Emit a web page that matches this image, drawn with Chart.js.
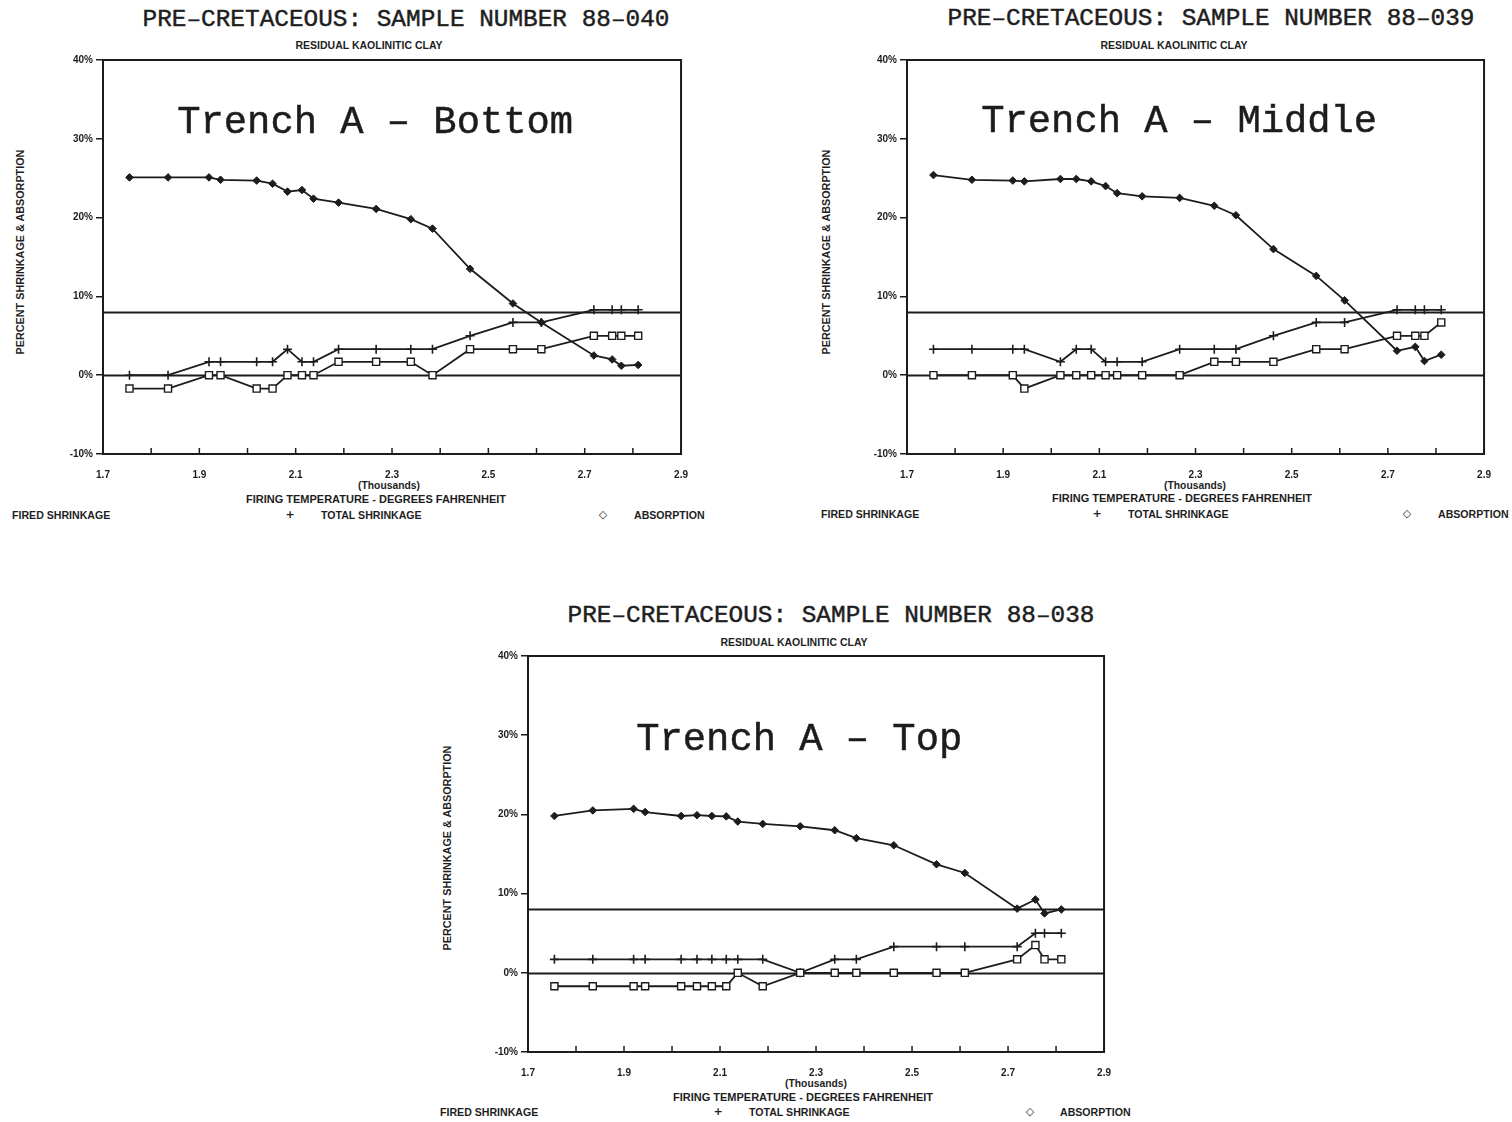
<!DOCTYPE html>
<html>
<head>
<meta charset="utf-8">
<script src="https://cdn.jsdelivr.net/npm/chart.js@4.4.1/dist/chart.umd.min.js"></script>
<style>
  html,body{margin:0;padding:0;background:#ffffff;}
  body{width:1512px;height:1122px;position:relative;overflow:hidden;color:#1e1e1e;}
  .box{position:absolute;}
  .t{position:absolute;white-space:nowrap;line-height:1;transform:translate(-50%,-50%);}
  .l{position:absolute;white-space:nowrap;line-height:1;transform:translate(0,-50%);}
  .ttl{font-family:"Liberation Mono","DejaVu Sans Mono",monospace;font-size:24.4px;-webkit-text-stroke:0.45px #1e1e1e;}
  .sm{font-family:"Liberation Sans",Arial,sans-serif;font-weight:bold;font-size:10.5px;}
  .th{font-family:"Liberation Sans",Arial,sans-serif;font-weight:bold;font-size:10.3px;}
  .fx{font-family:"Liberation Sans",Arial,sans-serif;font-weight:bold;font-size:11px;}
  .lg{font-family:"Liberation Sans",Arial,sans-serif;font-weight:bold;font-size:10.6px;}
  .yt{font-family:"Liberation Sans",Arial,sans-serif;font-weight:bold;font-size:10.8px;transform:translate(-50%,-50%) rotate(-90deg);}
  .sym{font-family:"DejaVu Sans",sans-serif;font-weight:bold;font-size:11px;}
</style>
</head>
<body>

<!-- Chart 1 texts -->
<div class="t ttl" style="left:406px;top:20px;">PRE–CRETACEOUS: SAMPLE NUMBER 88–040</div>
<div class="t sm" style="left:369px;top:45px;">RESIDUAL KAOLINITIC CLAY</div>
<div class="t yt" style="left:20px;top:252px;">PERCENT SHRINKAGE &amp; ABSORPTION</div>
<div class="t th" style="left:389px;top:486px;">(Thousands)</div>
<div class="t fx" style="left:376px;top:499px;">FIRING TEMPERATURE - DEGREES FAHRENHEIT</div>
<div class="l lg" style="left:12px;top:515px;">FIRED SHRINKAGE</div>
<div class="t sym" style="left:290px;top:514px;">+</div>
<div class="l lg" style="left:321px;top:515px;">TOTAL SHRINKAGE</div>
<div class="t sym" style="left:603px;top:514px;">◇</div>
<div class="l lg" style="left:634px;top:515px;">ABSORPTION</div>

<!-- Chart 2 texts -->
<div class="t ttl" style="left:1211px;top:19px;">PRE–CRETACEOUS: SAMPLE NUMBER 88–039</div>
<div class="t sm" style="left:1174px;top:45px;">RESIDUAL KAOLINITIC CLAY</div>
<div class="t yt" style="left:826px;top:252px;">PERCENT SHRINKAGE &amp; ABSORPTION</div>
<div class="t th" style="left:1195px;top:486px;">(Thousands)</div>
<div class="t fx" style="left:1182px;top:498px;">FIRING TEMPERATURE - DEGREES FAHRENHEIT</div>
<div class="l lg" style="left:821px;top:514px;">FIRED SHRINKAGE</div>
<div class="t sym" style="left:1097px;top:513px;">+</div>
<div class="l lg" style="left:1128px;top:514px;">TOTAL SHRINKAGE</div>
<div class="t sym" style="left:1407px;top:513px;">◇</div>
<div class="l lg" style="left:1438px;top:514px;">ABSORPTION</div>

<!-- Chart 3 texts -->
<div class="t ttl" style="left:831px;top:616px;">PRE–CRETACEOUS: SAMPLE NUMBER 88–038</div>
<div class="t sm" style="left:794px;top:642px;">RESIDUAL KAOLINITIC CLAY</div>
<div class="t yt" style="left:447px;top:848px;">PERCENT SHRINKAGE &amp; ABSORPTION</div>
<div class="t th" style="left:816px;top:1084px;">(Thousands)</div>
<div class="t fx" style="left:803px;top:1097px;">FIRING TEMPERATURE - DEGREES FAHRENHEIT</div>
<div class="l lg" style="left:440px;top:1112px;">FIRED SHRINKAGE</div>
<div class="t sym" style="left:718px;top:1111px;">+</div>
<div class="l lg" style="left:749px;top:1112px;">TOTAL SHRINKAGE</div>
<div class="t sym" style="left:1030px;top:1111px;">◇</div>
<div class="l lg" style="left:1060px;top:1112px;">ABSORPTION</div>

<div class="box" style="left:43px;top:50px;width:660px;height:444px;"><canvas id="c1"></canvas></div>
<div class="box" style="left:847px;top:50px;width:659px;height:444px;"><canvas id="c2"></canvas></div>
<div class="box" style="left:468px;top:646px;width:658px;height:446px;"><canvas id="c3"></canvas></div>

<script>
// ---- Data (firing temperature in thousands of °F, values in percent) ----
const temps = [1.755, 1.835, 1.92, 1.944, 2.019, 2.052, 2.083, 2.113, 2.137, 2.189,
               2.267, 2.339, 2.384, 2.462, 2.551, 2.61, 2.719, 2.757, 2.776, 2.811];

// Sample 88-040 (Trench A - Bottom)
const fired040 = [-1.7,-1.7,0,0,-1.7,-1.7,0,0,0,1.7,1.7,1.7,0,3.3,3.3,3.3,5,5,5,5];
const total040 = [0,0,1.7,1.7,1.7,1.7,3.3,1.7,1.7,3.3,3.3,3.3,3.3,5,6.7,6.7,8.3,8.3,8.3,8.3];
const absorb040 = [25.1,25.1,25.1,24.8,24.7,24.3,23.3,23.5,22.4,21.9,21.1,19.8,18.6,13.5,9.1,6.7,2.5,2.0,1.2,1.3];

// Sample 88-039 (Trench A - Middle)
const fired039 = [0,0,0,-1.7,0,0,0,0,0,0,0,1.7,1.7,1.7,3.3,3.3,5,5,5,6.7];
const total039 = [3.3,3.3,3.3,3.3,1.7,3.3,3.3,1.7,1.7,1.7,3.3,3.3,3.3,5,6.7,6.7,8.3,8.3,8.3,8.3];
const absorb039 = [25.4,24.8,24.7,24.6,24.9,24.9,24.6,24.0,23.1,22.7,22.5,21.5,20.3,16.0,12.6,9.5,3.1,3.6,1.8,2.6];

// Sample 88-038 (Trench A - Top)
const fired038 = [-1.7,-1.7,-1.7,-1.7,-1.7,-1.7,-1.7,-1.7,0,-1.7,0,0,0,0,0,0,1.7,3.5,1.7,1.7];
const total038 = [1.7,1.7,1.7,1.7,1.7,1.7,1.7,1.7,1.7,1.7,0,1.7,1.7,3.3,3.3,3.3,3.3,5,5,5];
const absorb038 = [19.8,20.5,20.7,20.3,19.8,19.9,19.8,19.75,19.1,18.8,18.5,18.0,17.0,16.1,13.7,12.6,8.1,9.25,7.5,8.0];

// Reference levels (percent) drawn across each plot
const refLevels = [0, 8];
// Axis ranges / ticks
const xMin = 1.7, xMax = 2.9, xStep = 0.1;
const yMin = -10, yMax = 40, yStep = 10;
// In-plot captions and their anchor (data coordinates)
const captions = ["Trench A – Bottom", "Trench A – Middle", "Trench A – Top"];
const captionX = [2.265, 2.266, 2.265];
const captionY = [32, 32.2, 29.4];

const INK = '#1c1c1c';

const decor = {
  id: 'decor',
  beforeDatasetsDraw(chart, args, opts) {
    const {ctx, chartArea: a, scales: {x, y}} = chart;
    ctx.save();
    ctx.strokeStyle = INK;
    ctx.lineWidth = 1.8;
    refLevels.forEach(v => {
      const py = Math.round(y.getPixelForValue(v)) + 0.5;
      ctx.beginPath(); ctx.moveTo(a.left, py); ctx.lineTo(a.right, py); ctx.stroke();
    });
    ctx.lineWidth = 2;
    ctx.strokeRect(a.left, a.top, a.right - a.left, a.bottom - a.top);
    ctx.lineWidth = 1.5;
    x.ticks.forEach(t => {
      const px = x.getPixelForValue(t.value);
      ctx.beginPath(); ctx.moveTo(px, a.bottom); ctx.lineTo(px, a.bottom - 6); ctx.stroke();
    });
    ctx.fillStyle = INK;
    ctx.strokeStyle = INK;
    ctx.lineWidth = 0.5;
    ctx.font = '38.8px "Liberation Mono", "DejaVu Sans Mono", monospace';
    ctx.textAlign = 'center';
    ctx.textBaseline = 'middle';
    const cx = x.getPixelForValue(opts.cx), cy = y.getPixelForValue(opts.cy);
    ctx.fillText(opts.caption, cx, cy);
    ctx.strokeText(opts.caption, cx, cy);
    ctx.restore();
  }
};

function makeChart(id, fired, total, absorb, idx) {
  const pts = arr => arr.map((v, i) => ({x: temps[i], y: v}));
  const tickFont = {family: '"Liberation Sans", Arial, sans-serif', size: 10, weight: 'bold'};
  return new Chart(document.getElementById(id), {
    type: 'line',
    data: {
      datasets: [
        {label: 'FIRED SHRINKAGE', data: pts(fired), borderColor: INK, borderWidth: 1.8,
         pointStyle: 'rect', pointRadius: 5, pointBackgroundColor: '#ffffff',
         pointBorderColor: INK, pointBorderWidth: 1.4, tension: 0},
        {label: 'TOTAL SHRINKAGE', data: pts(total), borderColor: INK, borderWidth: 1.8,
         pointStyle: 'cross', pointRadius: 4.5, pointBorderColor: INK,
         pointBorderWidth: 1.6, tension: 0},
        {label: 'ABSORPTION', data: pts(absorb), borderColor: INK, borderWidth: 1.8,
         pointStyle: 'rectRot', pointRadius: 3.8, pointBackgroundColor: INK,
         pointBorderColor: INK, pointBorderWidth: 1, tension: 0}
      ]
    },
    options: {
      responsive: true,
      maintainAspectRatio: false,
      animation: false,
      events: [],
      layout: {padding: {left: 0, top: 10, right: 20, bottom: 10}},
      plugins: {
        legend: {display: false},
        tooltip: {enabled: false},
        decor: {caption: captions[idx], cx: captionX[idx], cy: captionY[idx]}
      },
      scales: {
        x: {
          type: 'linear', min: xMin, max: xMax,
          afterFit: s => { s.height = 30; },
          border: {display: false},
          grid: {display: true, drawOnChartArea: false, drawTicks: false, color: 'rgba(0,0,0,0)'},
          ticks: {
            stepSize: xStep, autoSkip: false, maxRotation: 0, padding: 15,
            color: INK, font: tickFont,
            callback: v => (Math.round(v * 10) % 2 === 1 ? (Math.round(v * 10) / 10).toFixed(1) : '')
          }
        },
        y: {
          min: yMin, max: yMax,
          afterFit: s => { s.width = 60; },
          border: {display: true, color: INK, width: 2},
          grid: {drawOnChartArea: false, drawTicks: true, tickLength: 7, color: INK, lineWidth: 1.5},
          ticks: {stepSize: yStep, padding: 3, color: INK, font: tickFont,
                  callback: v => v + '%'}
        }
      }
    },
    plugins: [decor]
  });
}

makeChart('c1', fired040, total040, absorb040, 0);
makeChart('c2', fired039, total039, absorb039, 1);
makeChart('c3', fired038, total038, absorb038, 2);
</script>
</body>
</html>
